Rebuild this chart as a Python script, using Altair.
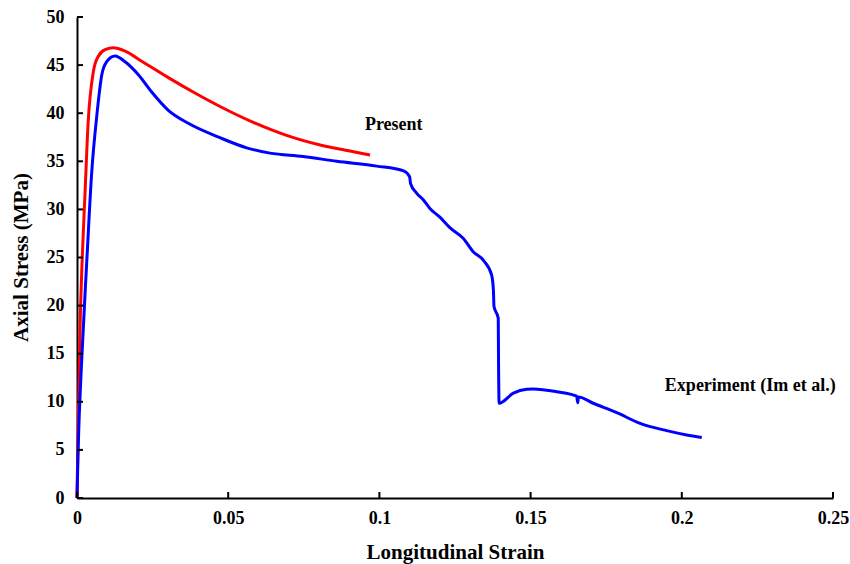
import altair as alt
import pandas as pd

# Present (model) curve
present_strain = [0.0, 0.0004, 0.001, 0.0018, 0.0026, 0.0037, 0.0054, 0.007, 0.0093, 0.012, 0.0159,
                  0.0214, 0.0302, 0.039, 0.0473, 0.0583, 0.0693, 0.0804, 0.0914, 0.0969]
present_stress = [0.0, 7.5, 17.5, 25.5, 31.3, 39.1, 44.3, 45.9, 46.6, 46.8, 46.45,
                  45.4, 43.7, 42.1, 40.7, 39.05, 37.7, 36.7, 36.0, 35.65]

# Experiment (Im et al.) curve
exp_strain = [0.0, 0.0004, 0.0015, 0.0032, 0.0049, 0.0065, 0.0082, 0.0098, 0.0126, 0.0159, 0.0203, 0.0247,
              0.0302, 0.0368, 0.0473, 0.0561, 0.0638, 0.0748, 0.0859, 0.0991, 0.108, 0.110, 0.1103, 0.1123,
              0.1145, 0.1167, 0.120, 0.1233, 0.1277, 0.131, 0.1344, 0.1371, 0.1377, 0.1379, 0.1393, 0.1394,
              0.1396, 0.1443, 0.1487, 0.1509, 0.1586, 0.1652, 0.1656, 0.1658, 0.1707, 0.1785, 0.1862, 0.195,
              0.2016, 0.2066]
exp_stress = [0.0, 5.3, 14.0, 24.4, 34.0, 39.6, 44.0, 45.35, 45.95, 45.35, 44.0, 42.2,
              40.3, 38.95, 37.45, 36.4, 35.85, 35.5, 35.0, 34.5, 34.0, 33.4, 32.7, 31.7,
              31.0, 30.1, 29.2, 28.1, 27.0, 25.6, 24.7, 23.2, 21.6, 19.9, 18.7, 14.0,
              9.85, 10.9, 11.3, 11.33, 11.05, 10.6, 9.9, 10.5, 9.85, 8.87, 7.76, 7.0,
              6.55, 6.3]

x_ticks = [0, 0.05, 0.1, 0.15, 0.2, 0.25]
y_ticks = [0, 5, 10, 15, 20, 25, 30, 35, 40, 45, 50]

label_text = ["Present", "Experiment (Im et al.)"]
label_x = [0.0952, 0.1944]
label_y = [38.8, 11.6]

df = pd.concat([
    pd.DataFrame({"strain": present_strain, "stress": present_stress, "series": "Present",
                  "i": range(len(present_strain))}),
    pd.DataFrame({"strain": exp_strain, "stress": exp_stress, "series": "Experiment",
                  "i": range(len(exp_strain))}),
])

FONT = "Liberation Serif"

xscale = alt.Scale(domain=[0, 0.25], nice=False, zero=True)
yscale = alt.Scale(domain=[0, 50], nice=False)

xaxis = alt.Axis(values=x_ticks, format="~g", title="Longitudinal Strain", ticks=False,
                 labelPadding=11, labelFlush=False, grid=False,
                 titleY=60, titleBaseline="alphabetic")
yaxis = alt.Axis(values=y_ticks, title="Axial Stress (MPa)", ticks=False,
                 labelPadding=13, labelFlush=False, grid=False,
                 titleX=-50, titleY=240, titleAngle=-90, titleAlign="center", titleBaseline="alphabetic")

lines = alt.Chart(df).mark_line(strokeWidth=3, interpolate="monotone").encode(
    x=alt.X("strain:Q", scale=xscale, axis=xaxis),
    y=alt.Y("stress:Q", scale=yscale, axis=yaxis),
    color=alt.Color("series:N", scale=alt.Scale(domain=["Present", "Experiment"],
                                                range=["#FF0000", "#0000FF"]), legend=None),
    order="i:Q",
    detail="series:N",
)

xt = alt.Chart(pd.DataFrame({"t": x_ticks})).mark_rule(color="black", strokeWidth=2).encode(
    x=alt.X("t:Q", scale=xscale), y=alt.value(481), y2=alt.value(475))
yt = alt.Chart(pd.DataFrame({"t": y_ticks})).mark_rule(color="black", strokeWidth=2).encode(
    y=alt.Y("t:Q", scale=yscale), x=alt.value(0), x2=alt.value(6))

labels = alt.Chart(pd.DataFrame({"text": label_text, "x": label_x, "y": label_y})).mark_text(
    align="left", baseline="middle", font=FONT, fontWeight="bold", fontSize=18, color="black"
).encode(x=alt.X("x:Q", scale=xscale), y=alt.Y("y:Q", scale=yscale), text="text:N")

chart = alt.layer(lines, xt, yt, labels).properties(
    width=756, height=481,
    autosize=alt.AutoSizeParams(type="none"),
    padding={"left": 77, "top": 17, "right": 17, "bottom": 66},
    background="white",
).configure_view(stroke=None).configure_axis(
    domainColor="black", domainWidth=2,
    labelFont=FONT, labelFontWeight="bold", labelFontSize=18, labelColor="black",
    titleFont=FONT, titleFontWeight="bold", titleFontSize=21, titleColor="black",
)

chart.save("out.html", embed_options={"renderer": "svg", "actions": False})
